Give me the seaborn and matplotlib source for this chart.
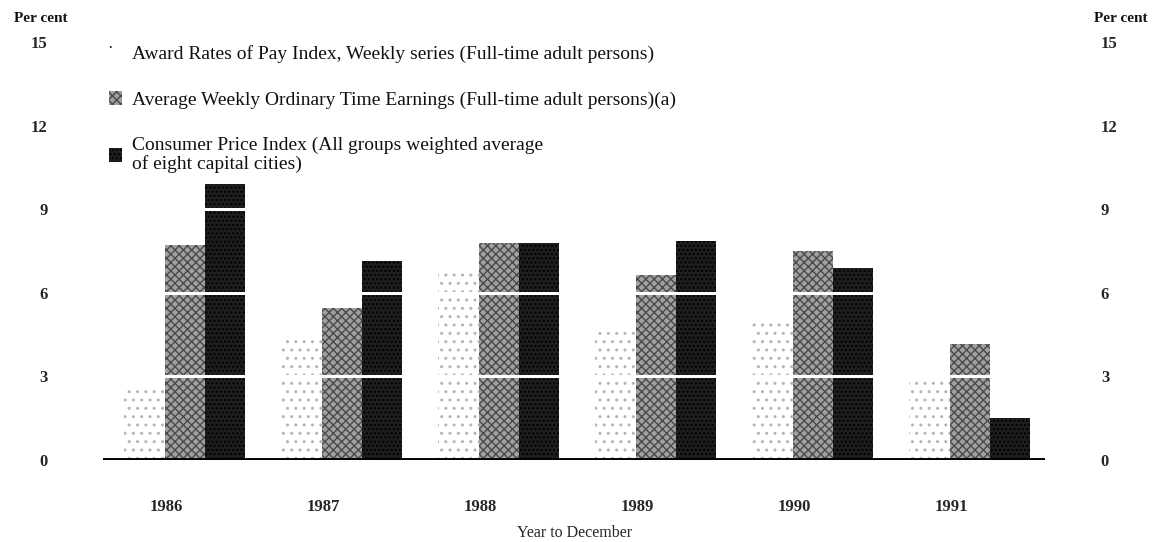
import matplotlib
matplotlib.use("Agg")
import matplotlib.pyplot as plt
import matplotlib.patches as mpatches
import pandas as pd
import seaborn as sns

# values (per cent, year to December)
years = ["1986", "1987", "1988", "1989", "1990", "1991"]
award = [2.5, 4.4, 6.8, 4.6, 4.9, 2.9]
awote = [7.7, 5.45, 7.8, 6.65, 7.5, 4.15]
cpi = [9.9, 7.15, 7.8, 7.85, 6.9, 1.5]

series = [
    "Award Rates of Pay Index, Weekly series (Full-time adult persons)",
    "Average Weekly Ordinary Time Earnings (Full-time adult persons)(a)",
    "Consumer Price Index (All groups weighted average\nof eight capital cities)",
]

df = pd.DataFrame({
    "year": years * 3,
    "value": award + awote + cpi,
    "series": [series[0]] * 6 + [series[1]] * 6 + [series[2]] * 6,
})

sns.set_style("white")
plt.rcParams["font.family"] = ["Liberation Serif", "DejaVu Serif"]
plt.rcParams["text.color"] = "#111111"

fig = plt.figure(figsize=(11.55, 5.42), dpi=100)
ax = fig.add_axes([0.0892, 0.1513, 0.905 - 0.0892, 0.9225 - 0.1513])

palette = ["#ffffff", "#a0a0a0", "#1e1e1e"]
sns.barplot(data=df, x="year", y="value", hue="series", palette=palette,
            width=0.77, gap=0, saturation=1, legend=False, ax=ax)

# mimic the dithered print screens
hatches = ["..", "xxxx", "...."]
hatch_cols = ["#b5b5b5", "#4a4a4a", "#000000"]
for cont, h, hc in zip(ax.containers, hatches, hatch_cols):
    for bar in cont:
        bar.set_hatch(h)
        bar.set_edgecolor(hc)
        bar.set_linewidth(0)

# white gridlines cut through the bars
for yv in [3, 6, 9]:
    ax.axhline(yv, color="white", lw=2.2, zorder=5)
ax.axhline(0, color="black", lw=2.8, zorder=6)

ax.set_xlim(-0.52, 5.48)
ax.set_ylim(0, 15)
ax.set_yticks([0, 3, 6, 9, 12, 15])
ax.set_yticklabels(["0", "3", "6", "9", "12", "15"], fontweight="bold", fontsize=12)
ax.tick_params(axis="y", length=0, pad=40, labelright=True, labelleft=True)
ax.set_xticks([i - 0.12 for i in range(6)])
ax.set_xticklabels(years, fontweight="bold", fontsize=12)
ax.tick_params(axis="x", length=0, pad=28)
ax.set_xlabel("Year to December", fontsize=11.5, labelpad=7)
ax.set_ylabel("")
for s in ax.spines.values():
    s.set_visible(False)

fig.text(0.035, 0.965, "Per cent", fontsize=11, ha="center", va="center", fontweight="bold")
fig.text(0.97, 0.965, "Per cent", fontsize=11, ha="center", va="center", fontweight="bold")

handles = [mpatches.Patch(facecolor=palette[i], edgecolor=hatch_cols[i],
                          hatch=hatches[i], linewidth=0) for i in range(3)]
handles[0] = mpatches.Patch(facecolor="white", edgecolor="white", linewidth=0)
leg = ax.legend(handles, series, loc="upper left", bbox_to_anchor=(-0.004, 1.017),
                frameon=False, borderpad=0, handlelength=0.65, handleheight=0.75,
                handletextpad=0.55, labelspacing=1.45, prop={"size": 14})
for t in leg.get_texts():
    t.set_linespacing(1.05)
ax.text(-0.475, 14.75, "·", fontsize=12, ha="center", va="center", zorder=10)

fig.savefig("out.png", dpi=100)
